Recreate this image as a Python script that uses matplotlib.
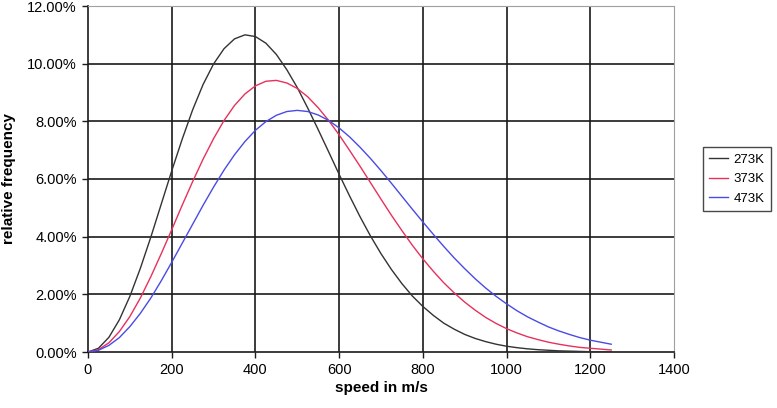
import matplotlib
matplotlib.use("Agg")
import matplotlib.pyplot as plt
from matplotlib.ticker import FuncFormatter

plt.rcParams['font.family'] = ['Liberation Sans', 'DejaVu Sans']

# speed in m/s (25 m/s steps), relative frequency in %
speed = list(range(0, 1275, 25))
freq_273 = [0.0, 0.13, 0.51, 1.12, 1.93, 2.90, 3.98, 5.13, 6.28, 7.38, 8.40, 9.28, 9.99,
            10.52, 10.86, 11.00, 10.94, 10.71, 10.32, 9.79, 9.17, 8.46, 7.71, 6.94, 6.16,
            5.41, 4.69, 4.02, 3.41, 2.86, 2.37, 1.94, 1.58, 1.27, 1.00, 0.79, 0.61, 0.47,
            0.36, 0.27, 0.20, 0.15, 0.11, 0.08, 0.06, 0.04, 0.03, 0.02, 0.01, 0.01, 0.01]
freq_373 = [0.0, 0.08, 0.32, 0.71, 1.23, 1.87, 2.61, 3.41, 4.24, 5.09, 5.91, 6.69, 7.40,
            8.03, 8.55, 8.95, 9.23, 9.39, 9.42, 9.33, 9.14, 8.85, 8.47, 8.03, 7.53,
            6.99, 6.44, 5.87, 5.30, 4.74, 4.21, 3.70, 3.23, 2.80, 2.40, 2.05, 1.73, 1.45,
            1.20, 0.99, 0.81, 0.66, 0.53, 0.43, 0.34, 0.27, 0.21, 0.16, 0.13, 0.10, 0.07]
freq_473 = [0.0, 0.06, 0.23, 0.50, 0.88, 1.34, 1.87, 2.47, 3.11, 3.77, 4.43, 5.09, 5.72,
            6.31, 6.84, 7.30, 7.69, 7.99, 8.21, 8.34, 8.38, 8.34, 8.22, 8.03, 7.77,
            7.46, 7.10, 6.71, 6.29, 5.85, 5.40, 4.95, 4.51, 4.08, 3.66, 3.26, 2.89, 2.54,
            2.22, 1.93, 1.67, 1.43, 1.22, 1.04, 0.87, 0.73, 0.61, 0.50, 0.41, 0.34, 0.27]

labels = ["273K", "373K", "473K"]
colors = ["#333333", "#e8305c", "#4a4ae6"]
x_ticks = [0, 200, 400, 600, 800, 1000, 1200, 1400]
y_ticks = [0, 2, 4, 6, 8, 10, 12]

fig = plt.figure(figsize=(7.77, 4.08), dpi=100)
ax = fig.add_axes([88 / 777, 1 - 352 / 408, (674 - 88) / 777, (352 - 6) / 408])

for data, lab, c in zip([freq_273, freq_373, freq_473], labels, colors):
    ax.plot(speed, data, color=c, lw=1.0, label=lab, zorder=3)

ax.set_xlim(0, 1400)
ax.set_ylim(0, 12)
ax.set_xticks(x_ticks)
ax.set_yticks(y_ticks)
ax.yaxis.set_major_formatter(FuncFormatter(lambda v, p: f"{v:.2f}%"))

# grid in Excel style: dark inner lines, light outer frame
for xv in x_ticks[1:-1]:
    ax.axvline(xv, color="#1a1a1a", lw=1.2, zorder=1)
for yv in y_ticks[1:-1]:
    ax.axhline(yv, color="#1a1a1a", lw=1.2, zorder=1)

ax.spines['left'].set_color("#1a1a1a")
ax.spines['bottom'].set_color("#1a1a1a")
ax.spines['left'].set_linewidth(1.2)
ax.spines['bottom'].set_linewidth(1.2)
ax.spines['top'].set_color("#a0a0a0")
ax.spines['right'].set_color("#a0a0a0")
ax.tick_params(axis='both', direction='out', length=4, width=1.0, color="#1a1a1a",
               labelsize=10.5, pad=4)

ax.set_xlabel("speed in m/s", fontsize=11, fontweight="bold", labelpad=3)
ax.set_ylabel("relative frequency", fontsize=11, fontweight="bold", labelpad=8)

leg = ax.legend(loc="center left", bbox_to_anchor=(1.049, 0.5), fontsize=9.5,
                frameon=True, fancybox=False, edgecolor="#1a1a1a",
                handlelength=1.5, handletextpad=0.4, borderpad=0.45, labelspacing=0.55,
                borderaxespad=0)
leg.get_frame().set_linewidth(1.0)

fig.savefig("out.png", dpi=100)
